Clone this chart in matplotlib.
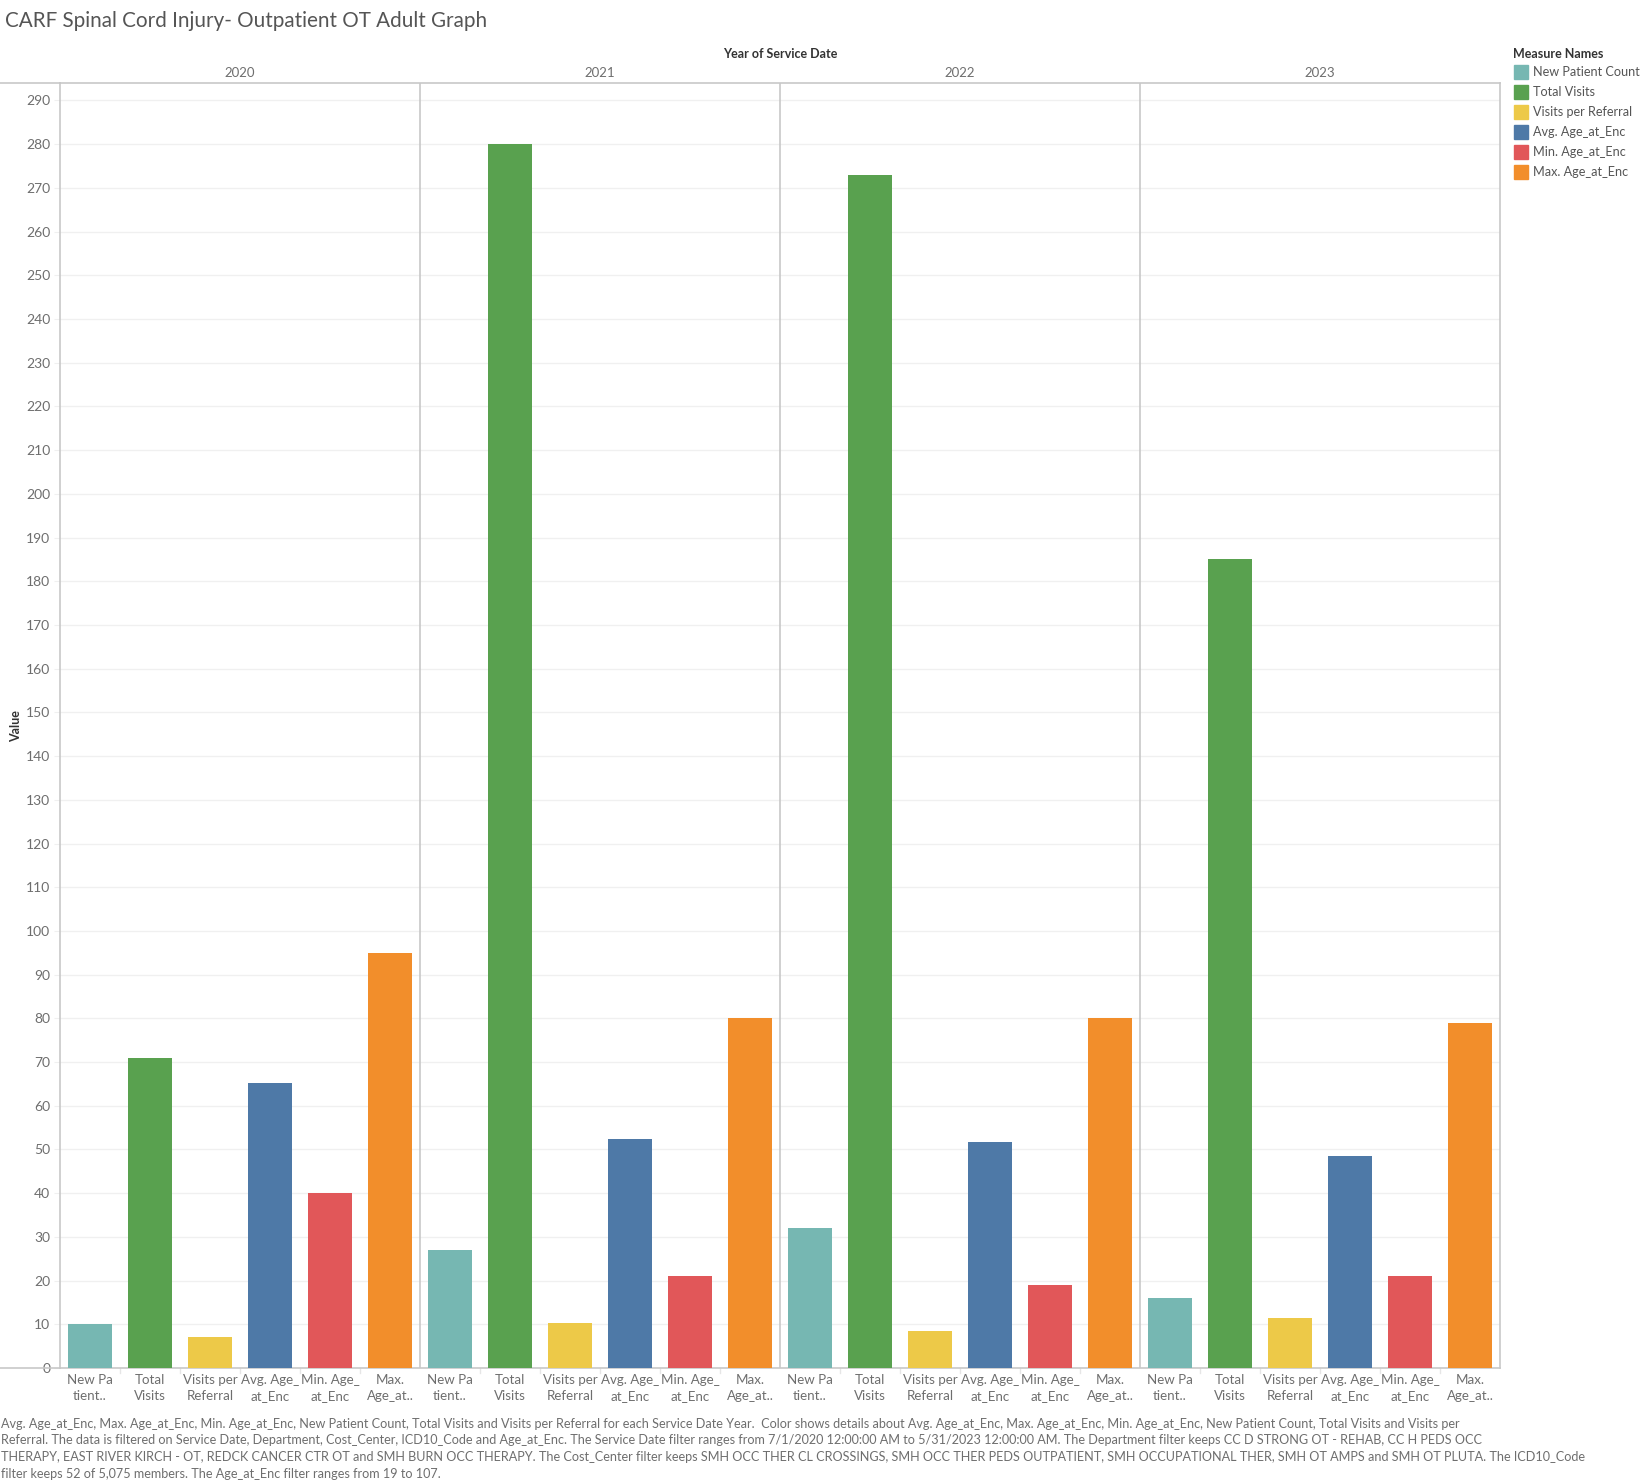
import numpy as np
import matplotlib.pyplot as plt
from matplotlib.patches import Rectangle
from matplotlib.lines import Line2D
from matplotlib.transforms import blended_transform_factory

plt.rcParams['font.family'] = ['Lato', 'DejaVu Sans']

years = ["2020", "2021", "2022", "2023"]
measures = ["New Patient Count", "Total Visits", "Visits per Referral",
            "Avg. Age_at_Enc", "Min. Age_at_Enc", "Max. Age_at_Enc"]
short_labels = ["New Pa\ntient..", "Total\nVisits", "Visits per\nReferral",
                "Avg. Age_\nat_Enc", "Min. Age_\nat_Enc", "Max.\nAge_at.."]
colors = ["#76b7b2", "#59a14f", "#edc948", "#4e79a7", "#e15759", "#f28e2b"]

new_patient = [10, 27, 32, 16]
total_visits = [71, 280, 273, 185]
visits_per_ref = [7.1, 10.3, 8.5, 11.5]
avg_age = [65.3, 52.4, 51.8, 48.5]
min_age = [40, 21, 19, 21]
max_age = [95, 80, 80, 79]

footer = ("Avg. Age_at_Enc, Max. Age_at_Enc, Min. Age_at_Enc, New Patient Count, Total Visits and Visits per Referral for each Service Date Year.  Color shows details about Avg. Age_at_Enc, Max. Age_at_Enc, Min. Age_at_Enc, New Patient Count, Total Visits and Visits per\n"
          "Referral. The data is filtered on Service Date, Department, Cost_Center, ICD10_Code and Age_at_Enc. The Service Date filter ranges from 7/1/2020 12:00:00 AM to 5/31/2023 12:00:00 AM. The Department filter keeps CC D STRONG OT - REHAB, CC H PEDS OCC\n"
          "THERAPY, EAST RIVER KIRCH - OT, REDCK CANCER CTR OT and SMH BURN OCC THERAPY. The Cost_Center filter keeps SMH OCC THER CL CROSSINGS, SMH OCC THER PEDS OUTPATIENT, SMH OCCUPATIONAL THER, SMH OT AMPS and SMH OT PLUTA. The ICD10_Code\n"
          "filter keeps 52 of 5,075 members. The Age_at_Enc filter ranges from 19 to 107.")

series = [new_patient, total_visits, visits_per_ref, avg_age, min_age, max_age]

W, H = 1651, 1484
fig = plt.figure(figsize=(W / 100, H / 100), dpi=100, facecolor='white')
ax_l, ax_r, ax_t, ax_b = 60, 1500, 83, 1368
ax = fig.add_axes([ax_l / W, 1 - ax_b / H, (ax_r - ax_l) / W, (ax_b - ax_t) / H])

n = len(measures)
for yi in range(len(years)):
    for mi in range(n):
        ax.bar(yi * n + mi, series[mi][yi], width=0.73, color=colors[mi], zorder=3)

ax.set_xlim(-0.5, len(years) * n - 0.5)
ax.set_ylim(0, 294)
ax.set_yticks(np.arange(0, 291, 10))
ax.yaxis.grid(True, color='#f0f0f0', linewidth=1, zorder=0)
ax.tick_params(axis='y', length=4, color='#f0f0f0', labelcolor='#6e6e6e', labelsize=10, pad=3)
ax.set_xticks(np.arange(len(years) * n))
ax.set_xticklabels(short_labels * len(years), color='#6e6e6e', fontsize=9.6, linespacing=1.45)
ax.tick_params(axis='x', length=0, pad=4)

for s in ['top', 'right', 'left', 'bottom']:
    ax.spines[s].set_color('#c8c8c8')
    ax.spines[s].set_linewidth(1.2)

for k in range(1, len(years)):
    ax.axvline(k * n - 0.5, color='#c8c8c8', linewidth=1.2, zorder=4)

# light separators under the x labels
sep = blended_transform_factory(ax.transData, ax.transAxes)
for k in range(1, len(years) * n):
    if k % n:
        ax.add_line(Line2D([k - 0.5, k - 0.5], [0, -0.004], transform=sep,
                           color='#e6e6e6', linewidth=1, clip_on=False))

# header lines spanning over y axis area
fig.add_artist(Line2D([0, ax_l / W], [1 - ax_t / H] * 2, color='#c8c8c8', linewidth=1.2))
fig.add_artist(Line2D([0, ax_l / W], [1 - ax_b / H] * 2, color='#c8c8c8', linewidth=1.2))

year_y = 1 + (ax_t - 73) / (ax_b - ax_t)
for yi, yr in enumerate(years):
    ax.text(yi * n + (n - 1) / 2, year_y, yr, transform=sep,
            ha='center', va='center', color='#6e6e6e', fontsize=9.5)

fig.text((ax_l + ax_r) / 2 / W, 1 - 54 / H, "Year of Service Date", ha='center', va='center',
         fontsize=9, fontweight='bold', color='#333333')
fig.text(16 / W, 1 - 726 / H, "Value", rotation=90, ha='center', va='center',
         fontsize=9, fontweight='bold', color='#333333')

fig.text(5 / W, 1 - 21 / H, "CARF Spinal Cord Injury- Outpatient OT Adult Graph", ha='left', va='center',
         fontsize=14.9, color='#555555')

# legend
fig.text(1513 / W, 1 - 54 / H, "Measure Names", ha='left', va='center', fontsize=9,
         fontweight='bold', color='#333333')
for i, (m, c) in enumerate(zip(measures, colors)):
    yc = 72 + 20 * i
    fig.add_artist(Rectangle((1514 / W, 1 - (yc + 7) / H), 14 / W, 14 / H, color=c,
                             transform=fig.transFigure))
    fig.text(1533 / W, 1 - yc / H, m, ha='left', va='center', fontsize=9.1, color='#555555')

fig.text(1 / W, 1 - 1418 / H, footer, ha='left', va='top', fontsize=9.1, color='#6e6e6e',
         linespacing=1.45)

fig.savefig("out.png", dpi=100, facecolor='white')
